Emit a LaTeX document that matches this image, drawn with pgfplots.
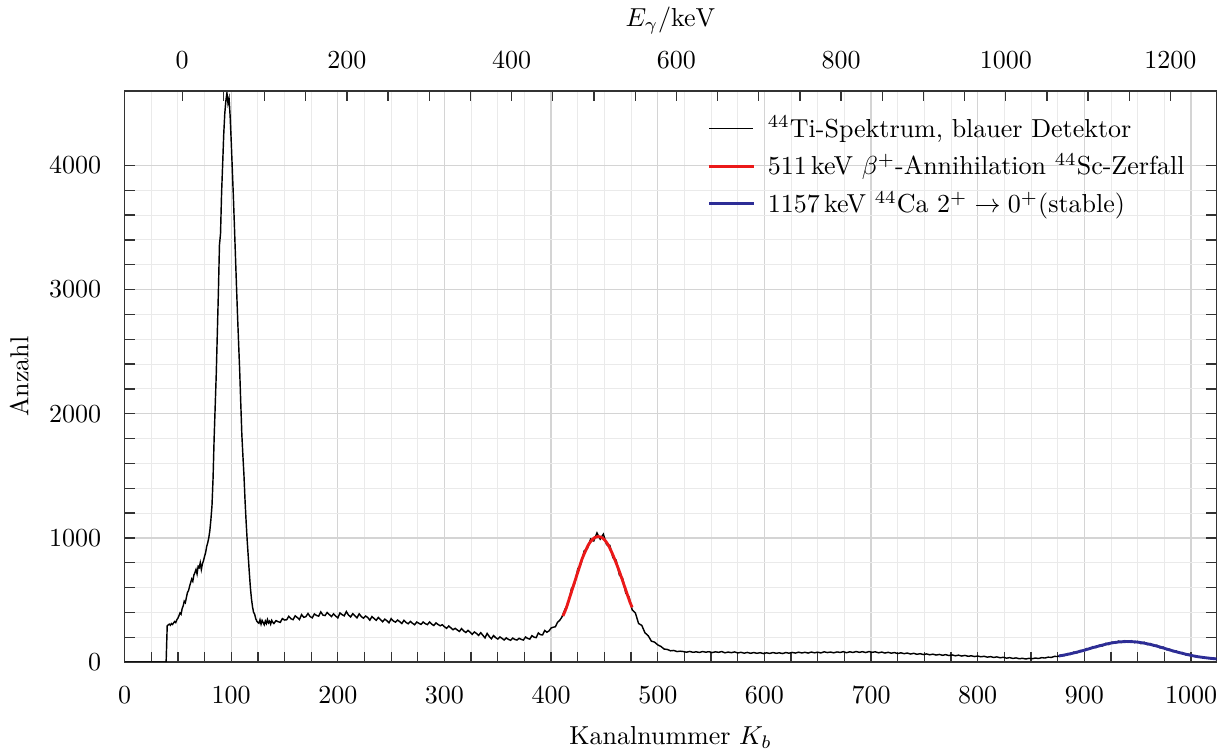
\documentclass[border=0pt]{standalone}
\usepackage{pgfplots}
\pgfplotsset{compat=1.18}
\definecolor{fitblue}{RGB}{45,45,150}
\definecolor{fitred}{RGB}{235,25,25}
\definecolor{gridmaj}{RGB}{212,212,212}
\definecolor{gridmin}{RGB}{234,234,234}
\pgfplotsset{/pgf/number format/set thousands separator={}}
\begin{document}
\begin{tikzpicture}
\begin{axis}[
 name=main,
 scale only axis, width=420pt, height=219.6pt,
 xmin=0, xmax=1024, ymin=0, ymax=4600,
 xtick={0,100,...,1000}, minor x tick num=3,
 ytick={0,1000,...,4000}, minor y tick num=4,
 tick align=inside, xtick pos=bottom, ytick pos=both,
 grid=both,
 major grid style={gridmaj, line width=0.5pt},
 minor grid style={gridmin, line width=0.4pt},
 axis line style={black!80, line width=0.6pt},
 major tick length=4pt, minor tick length=4pt,
 every tick/.style={black!80, line width=0.5pt},
 xticklabel style={yshift=-5.8pt}, yticklabel style={xshift=-5.5pt},
 xlabel={Kanalnummer $K_b$}, ylabel={Anzahl},
 xlabel style={yshift=-2pt}, ylabel style={yshift=1pt},
 legend style={at={(0.983,0.975)}, anchor=north east, draw=none, fill=none, row sep=0.8pt, column sep=3pt},
 legend cell align=left,
]
\addplot[black, line width=0.55pt] coordinates {
(0,0) (39,0) (40,290) (41,300) (42,305) (43,296) (44,310) (45,302) (46,315) (47,326) (48,318) (49,340)
(50,352) (51,372) (52,395) (53,385) (54,430) (55,452) (56,490) (57,478) (58,520) (59,560)
(60,575) (61,610) (62,640) (63,668) (64,650) (65,700) (66,720) (67,745) (68,710) (69,770)
(70,760) (71,800) (72,745) (73,790) (74,815) (75,850) (76,880) (77,930) (78,960) (79,1000)
(80,1060) (81,1150) (82,1260) (83,1480) (84,1800) (85,2060) (86,2320) (87,2650) (88,2980) (89,3360)
(90,3450) (91,3780) (92,4010) (93,4250) (94,4420) (95,4520) (96,4585) (97,4500) (98,4540) (99,4400)
(100,4200) (101,3980) (102,3760) (103,3520) (104,3270) (105,3020) (106,2780) (107,2560) (108,2340) (109,2080)
(110,1830) (111,1660) (112,1500) (113,1300) (114,1130) (115,980) (116,850) (117,720) (118,600) (119,510)
(120,445) (121,400) (122,385) (123,350) (124,330) (125,318) (126,312) (127,340) (128,305) (129,335)
(130,318) (131,300) (132,330) (133,310) (134,342) (135,315) (136,328) (137,305) (138,335) (139,320) (140,310)
(142,333) (144,325) (146,319) (148,350) (150,338) (152,340) (154,368) (156,349) (158,341) (160,372)
(162,358) (164,342) (166,382) (168,360) (170,365) (172,391) (174,366) (176,356) (178,387) (180,375)
(182,369) (184,404) (186,378) (188,374) (190,399) (192,382) (194,366) (196,388) (198,370) (200,355)
(202,395) (204,381) (206,372) (208,406) (210,378) (212,363) (214,389) (216,372) (218,356) (220,388)
(222,366) (224,353) (226,370) (228,359) (230,337) (232,366) (234,350) (236,336) (238,359) (240,341)
(242,324) (244,345) (246,333) (248,316) (250,349) (252,330) (254,321) (256,338) (258,325) (260,310)
(262,336) (264,318) (266,308) (268,327) (270,312) (272,300) (274,322) (276,312) (278,303) (280,322)
(282,309) (284,301) (286,322) (288,305) (290,294) (292,315) (294,302) (296,292) (298,300) (300,284)
(302,271) (304,290) (306,275) (308,260) (310,271) (312,258) (314,246) (316,269) (318,250) (320,238)
(322,255) (324,240) (326,223) (328,242) (330,230) (332,214) (334,236) (336,215) (338,194) (340,230)
(342,205) (344,187) (346,213) (348,196) (350,185) (352,202) (354,190) (356,177) (358,194) (360,182)
(362,175) (364,193) (366,181) (368,177) (370,191) (372,182) (374,177) (376,201) (378,190) (380,184)
(382,212) (384,200) (386,196) (388,234) (390,220) (392,218) (394,254) (396,240) (398,250) (400,274)
(402,280) (404,284) (406,320) (408,335) (410,360)
(413,425) (416,470) (419,590) (422,630) (425,750) (428,790) (431,895) (434,915) (437,990) (440,975)
(443,1040) (446,990) (449,1030) (452,945) (455,940) (458,840) (461,820) (464,700) (467,675) (470,555)
(473,525) (476,420) (479,395) (482,310) (485,295) (488,235) (491,212) (494,168) (497,160) (500,138)
(503,125) (506,104) (509,101) (512,90) (515,93) (518,84) (521,87)
(524,84) (527,79) (530,85) (533,78) (536,82) (539,77) (542,84) (545,79) (548,83) (551,76)
(554,82) (557,78) (560,84) (563,74) (566,80) (569,75) (572,81) (575,73) (578,78) (581,71)
(584,77) (587,70) (590,76) (593,70) (596,75) (599,68) (602,74) (605,69) (608,76) (611,70)
(614,74) (617,68) (620,76) (623,71) (626,77) (629,72) (632,79) (635,73) (638,78) (641,72)
(644,80) (647,74) (650,79) (653,73) (656,82) (659,76) (662,80) (665,74) (668,81) (671,77)
(674,83) (677,75) (680,82) (683,77) (686,84) (689,78) (692,83) (695,76) (698,84) (701,78)
(704,82) (707,74) (710,80) (713,72) (716,78) (719,71) (722,76) (725,68) (728,74) (731,67)
(734,72) (737,64) (740,70) (743,62) (746,67) (749,60) (752,65) (755,58) (758,63) (761,56)
(764,61) (767,54) (770,59) (773,52) (776,57) (779,50) (782,55) (785,48) (788,53) (791,46)
(794,50) (797,44) (800,48) (803,42) (806,46) (809,39) (812,43) (815,37) (818,41) (821,34)
(824,38) (827,31) (830,35) (833,29) (836,33) (839,26) (842,30) (845,24) (848,29) (851,26)
(854,32) (857,28) (860,35) (863,32) (866,39) (869,37) (872,45) (875,44)
(878,56) (881,51) (884,67) (887,61) (890,79) (893,74) (896,93) (899,88) (902,108) (905,103)
(908,123) (911,116) (914,135) (917,129) (920,150) (923,141) (926,160) (929,151) (932,168) (935,157)
(938,172) (941,158) (944,171) (947,156) (950,166) (953,148) (956,159) (959,140) (962,148) (965,129)
(968,135) (971,114) (974,120) (977,100) (980,103) (983,84) (986,89) (989,70) (992,76) (995,58)
(998,63) (1001,47) (1004,51) (1007,38) (1010,42) (1013,31) (1016,35) (1019,26) (1022,29) (1024,25)
};
\addlegendentry{$^{44}$Ti-Spektrum, blauer Detektor}
\addplot[fitred, line width=1.1pt, smooth] coordinates {
(411,370) (414,430) (417,510) (420,590) (423,670) (426,750) (429,830) (432,890) (435,945) (438,980)
(441,1003) (444,1011) (447,1005) (450,985) (453,950) (456,900) (459,840) (462,775) (465,705) (468,630)
(471,555) (474,480) (476,440)
};
\addlegendentry{511\,keV $\beta^{+}$-Annihilation $^{44}$Sc-Zerfall}
\addplot[fitblue, line width=1.1pt, smooth] coordinates {
(876,48) (884,61) (892,77) (900,95) (908,116) (916,134) (924,151) (932,161) (940,165) (948,162)
(956,152) (964,137) (972,118) (980,97) (988,78) (996,61) (1004,46) (1012,36) (1020,28) (1024,25)
};
\addlegendentry{1157\,keV $^{44}$Ca $2^{+}\rightarrow 0^{+}$(stable)}
\end{axis}
\begin{axis}[
 scale only axis, width=420pt, height=219.6pt,
 xmin=-70, xmax=1256, ymin=0, ymax=1,
 axis x line*=top, hide y axis,
 xtick={0,200,...,1200}, minor x tick num=3,
 tick align=inside,
 axis line style={black!80, line width=0.6pt},
 major tick length=4pt, minor tick length=4pt,
 every tick/.style={black!80, line width=0.5pt},
 xticklabel style={yshift=5pt},
 xlabel={$E_\gamma/\mathrm{keV}$},
]
\end{axis}
\pgfresetboundingbox
\path ([shift={(-47.9pt,-34.9pt)}]main.south west) rectangle ([shift={(4pt,35pt)}]main.north east);
\end{tikzpicture}
\end{document}
